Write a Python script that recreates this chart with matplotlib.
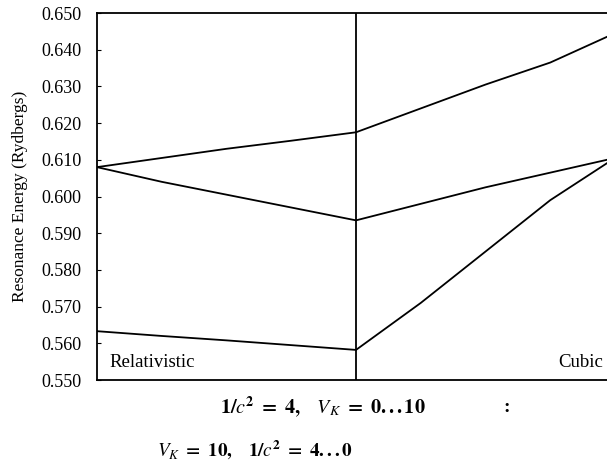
import numpy as np
import matplotlib
matplotlib.use('Agg')
import matplotlib.pyplot as plt

plt.rcParams['font.family'] = ['Liberation Serif', 'DejaVu Serif']
plt.rcParams['mathtext.fontset'] = 'stix'

# x: 0..10 relativistic half (V_K = 0..10), 10..20 cubic half (1/c^2 = 4..0)
x_pts = [0, 2.5, 5, 7.5, 10, 12.5, 15, 17.5, 20]
upper = [0.6080, 0.6105, 0.6130, 0.6152, 0.6175, 0.6240, 0.6305, 0.6365, 0.6445]
middle = [0.6080, 0.6040, 0.6005, 0.5970, 0.5935, 0.5980, 0.6025, 0.6065, 0.6105]
lower = [0.5633, 0.5620, 0.5608, 0.5595, 0.5582, 0.5710, 0.5850, 0.5990, 0.6105]

yticks = [0.550, 0.560, 0.570, 0.580, 0.590, 0.600, 0.610, 0.620, 0.630, 0.640, 0.650]

fig = plt.figure(figsize=(6.07, 4.61), dpi=100)
ax = fig.add_axes([97/607, 1 - 380/461, (615 - 97)/607, (380 - 13)/461])

for s in [upper, middle, lower]:
    ax.plot(x_pts, s, color='black', linewidth=1.3)

ax.axvline(10, color='black', linewidth=1.3)

ax.set_xlim(0, 20)
ax.set_ylim(0.550, 0.650)
ax.set_yticks(yticks)
ax.set_yticklabels(['%.3f' % v for v in yticks], fontsize=13)
ax.set_xticks([])
ax.tick_params(axis='y', direction='in', length=3, width=0.8, pad=11)
ax.spines['right'].set_visible(False)
for sp in ['left', 'top', 'bottom']:
    ax.spines[sp].set_linewidth(1.3)

ax.set_ylabel('Resonance Energy (Rydbergs)', fontsize=12.5, labelpad=10)

ax.text(0.5, 0.5535, 'Relativistic', fontsize=13.5, ha='left', va='baseline')
ax.text(19.55, 0.5535, 'Cubic', fontsize=13.5, ha='right', va='baseline')

fig.text(323/607, 1 - 407/461,
         r'$\mathbf{1/}c^{\mathbf{2}}\ \mathbf{=\ 4,}\ \ \ V_K\ \mathbf{=\ 0...10}$',
         fontsize=14.5, ha='center', va='center')
fig.text(507/607, 1 - 407/461, ':', fontsize=14, ha='center', va='center',
         fontweight='bold')
fig.text(255/607, 1 - 450/461,
         r'$V_K\ \mathbf{=\ 10,}\ \ \ \mathbf{1/}c^{\mathbf{2}}\ \mathbf{=\ 4...0}$',
         fontsize=13.8, ha='center', va='center')

fig.savefig('out.png', dpi=100)
